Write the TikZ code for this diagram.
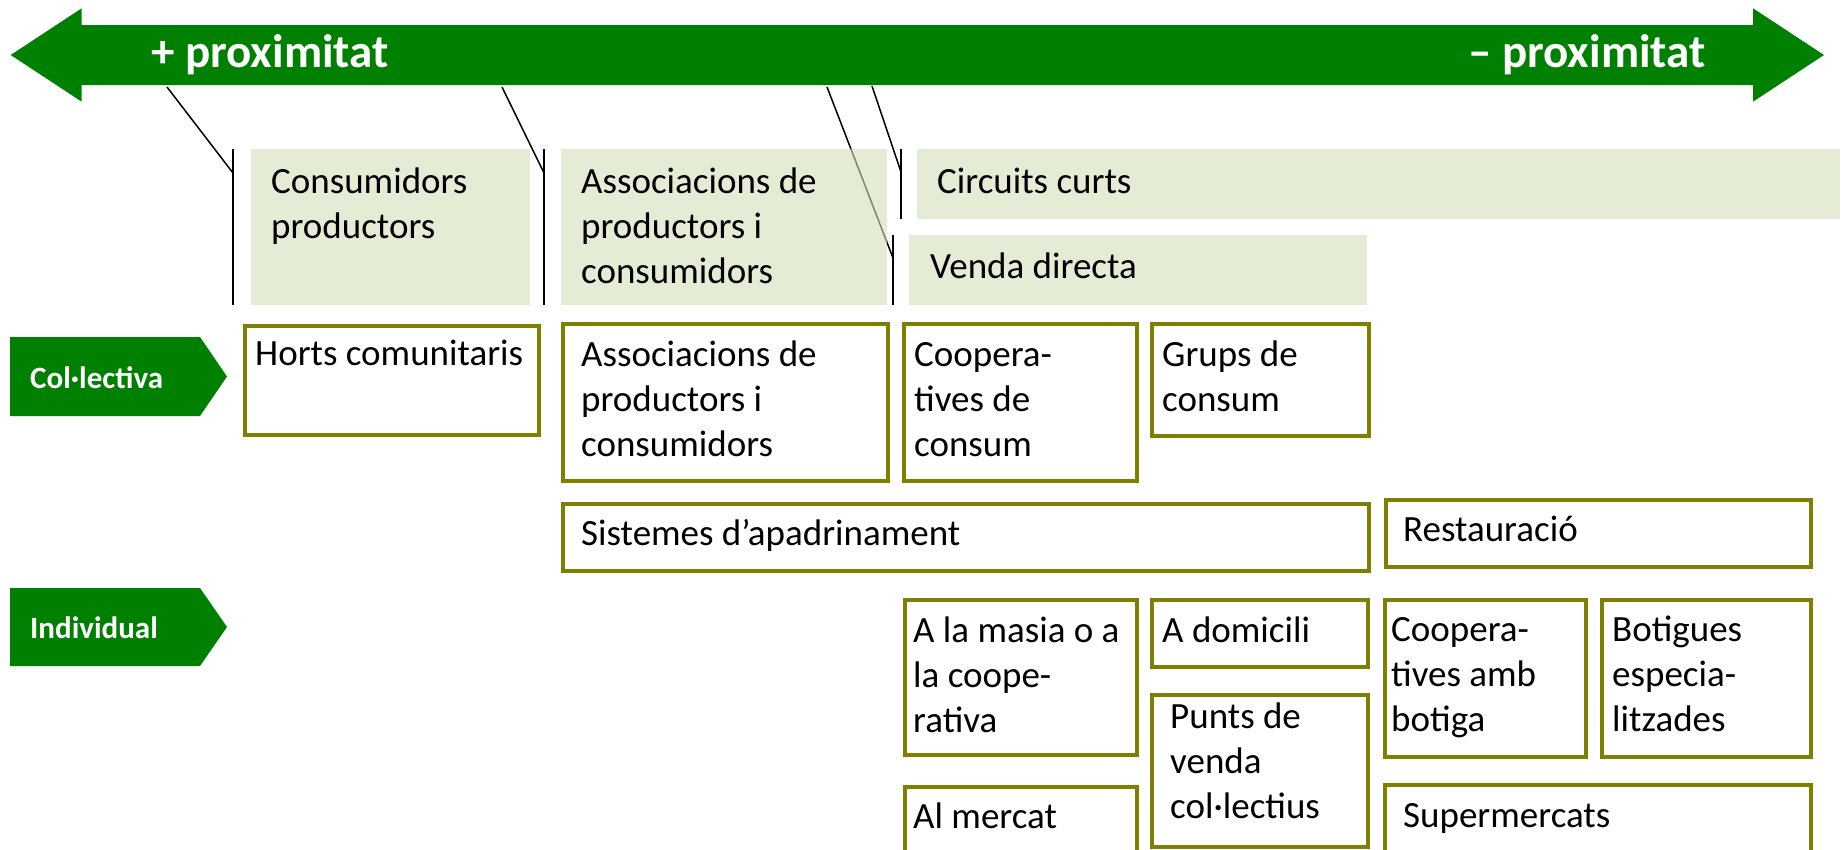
\documentclass[tikz,border=0pt]{standalone}
\usepackage{fontspec}
\setmainfont{Carlito}
\definecolor{bandgreen}{RGB}{0,128,0}
\definecolor{tiergreen}{RGB}{210,223,187}
\definecolor{boxolive}{RGB}{128,128,0}
\begin{document}
\begin{tikzpicture}[x=1pt, y=-1pt,
    tier/.style={fill=tiergreen, fill opacity=0.6, text opacity=1, anchor=north west, inner sep=0pt},
    channel/.style={draw=boxolive, line width=4pt, anchor=north west, inner sep=0pt},
    boxtext/.style={anchor=base west, inner sep=0pt, align=left, font=\fontsize{37}{45}\selectfont},
    tagtext/.style={anchor=base west, inner sep=0pt, text=white, font=\bfseries\fontsize{31}{37}\selectfont},
    bandtext/.style={anchor=base west, inner sep=0pt, text=white, font=\bfseries\fontsize{47}{56}\selectfont},
    tick/.style={line width=1.5pt}]
    \useasboundingbox (0, 0) rectangle (1843, 849);
    \clip (0, 0) rectangle (1843, 849);
    % proximity band
    \fill[bandgreen] (10.7, 55) -- (81.7, 8.3) -- (81.7, 25) -- (1753, 25) -- (1753, 8.3) --
    (1824, 55) -- (1753, 101.7) -- (1753, 85) -- (81.7, 85) -- (81.7, 101.7) -- cycle;
    \node[bandtext] (more) at (151, 67) {+ proximitat};
    \node[bandtext] (less) at (1468, 67) {– proximitat};
    \draw[tick] (167, 87) -- (233, 173);
    \draw[tick] (233, 149) -- (233, 305);
    \draw[tick] (502, 87) -- (544, 173);
    \draw[tick] (544, 149) -- (544, 305);
    \draw[tick] (827, 87) -- (893, 258);
    \draw[tick] (893, 235) -- (893, 305);
    \draw[tick] (872, 86) -- (901, 172);
    \draw[tick] (901, 149) -- (901, 219);
    % tiers (text nodes sit on the baseline of their last line)
    \node[tier, minimum width=279, minimum height=156] (consprod) at (251, 149) {};
    \node[tier, minimum width=326, minimum height=156] (assocA) at (561, 149) {};
    \node[tier, minimum width=923, minimum height=70] (circuits) at (917, 149) {};
    \node[tier, minimum width=458, minimum height=70] (venda) at (909, 235) {};
    \node[boxtext] (consprodtxt) at (271, 238) {Consumidors\\productors};
    \node[boxtext] (assocAtxt) at (581, 283) {Associacions de\\productors i\\consumidors};
    \node[boxtext] (circuitstxt) at (937, 193) {Circuits curts};
    \node[boxtext] (vendatxt) at (930, 278) {Venda directa};
    % tags
    \fill[bandgreen] (10, 337) -- (200, 337) -- (227, 376.5) -- (200, 416) -- (10, 416) -- cycle;
    \fill[bandgreen] (10, 588) -- (200, 588) -- (227, 627) -- (200, 666) -- (10, 666) -- cycle;
    \node[tagtext] (collectiva) at (30, 388) {Col·lectiva};
    \node[tagtext] (individual) at (30, 638) {Individual};
    % channels
    \node[channel, minimum width=294, minimum height=109] (horts) at (243, 324) {};
    \node[channel, minimum width=325, minimum height=157] (assocB) at (561, 322) {};
    \node[channel, minimum width=233, minimum height=157] (coopcons) at (902, 322) {};
    \node[channel, minimum width=217, minimum height=112] (grups) at (1150, 322) {};
    \node[channel, minimum width=806, minimum height=67] (apadr) at (561, 502) {};
    \node[channel, minimum width=425, minimum height=67] (restaur) at (1384, 498) {};
    \node[channel, minimum width=232, minimum height=155] (masia) at (903, 598) {};
    \node[channel, minimum width=216, minimum height=67] (domicili) at (1150, 598) {};
    \node[channel, minimum width=216, minimum height=152] (punts) at (1150, 693) {};
    \node[channel, minimum width=201, minimum height=157] (coopbot) at (1383, 598) {};
    \node[channel, minimum width=209, minimum height=157] (botigues) at (1600, 598) {};
    \node[channel, minimum width=232, minimum height=100] (mercat) at (903, 785) {};
    \node[channel, minimum width=426, minimum height=100] (super) at (1383, 783) {};
    \node[boxtext] (hortstxt) at (255, 365) {Horts comunitaris};
    \node[boxtext] (assocBtxt) at (581, 456) {Associacions de\\productors i\\consumidors};
    \node[boxtext] (coopconstxt) at (914, 456) {Coopera-\\tives de\\consum};
    \node[boxtext] (grupstxt) at (1162, 411) {Grups de\\consum};
    \node[boxtext] (apadrtxt) at (581, 545) {Sistemes d’apadrinament};
    \node[boxtext] (restaurtxt) at (1403, 541) {Restauració};
    \node[boxtext] (masiatxt) at (913, 732) {A la masia o a\\la coope-\\rativa};
    \node[boxtext] (domiciliatxt) at (1162, 642) {A domicili};
    \node[boxtext] (puntstxt) at (1170, 818) {Punts de\\venda\\col·lectius};
    \node[boxtext] (coopbottxt) at (1391, 731) {Coopera-\\tives amb\\botiga};
    \node[boxtext] (botiguestxt) at (1612, 731) {Botigues\\especia-\\litzades};
    \node[boxtext] (mercattxt) at (913, 828) {Al mercat};
    \node[boxtext] (supertxt) at (1403, 827) {Supermercats};
  \end{tikzpicture}
\end{document}
